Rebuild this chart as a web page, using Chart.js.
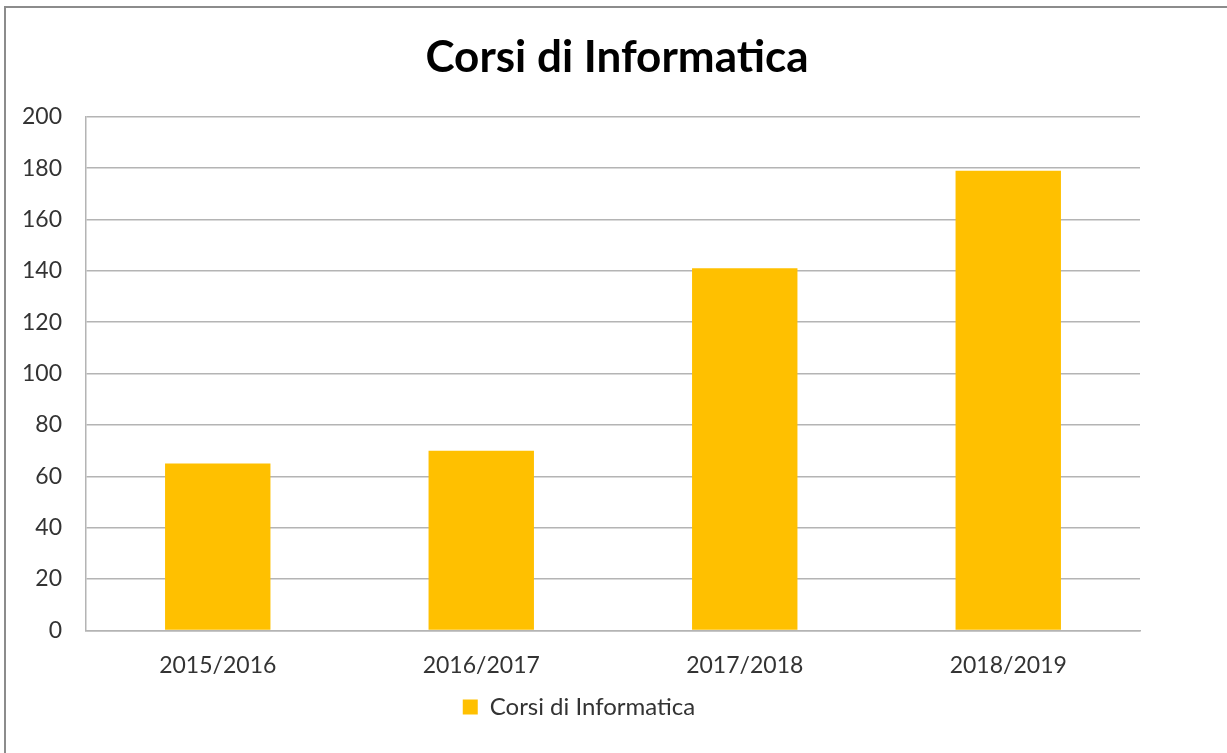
<!DOCTYPE html>
<html>
<head>
    <title>Corsi di Informatica</title>
    <script src="https://cdn.jsdelivr.net/npm/chart.js"></script>
    <style>
        html, body {
            margin: 0;
            padding: 0;
            background: #fff;
        }
        .wrap {
            position: relative;
            width: 1227px;
            height: 753px;
        }
        .frame {
            position: absolute;
            left: 4px;
            top: 6px;
            right: 0;
            bottom: 0;
            border-top: 2px solid #8c8c8c;
            border-left: 2px solid #8c8c8c;
            pointer-events: none;
        }
    </style>
</head>
<body>
    <div class="wrap">
        <canvas id="corsiChart" width="1227" height="753"></canvas>
        <div class="frame"></div>
    </div>

    <script>
        const anni = ['2015/2016', '2016/2017', '2017/2018', '2018/2019'];
        const corsi = [65, 70, 141, 179];
        const serieLabel = 'Corsi di Informatica';

        const FONT = 'Lato, "Open Sans", sans-serif';
        const GRID = '#b4b4b4';

        // Excel centres the title on the whole frame, and the legend a bit left of it
        const nudgeBlocks = {
            id: 'nudgeBlocks',
            afterLayout(chart) {
                const t = chart.titleBlock;
                if (t) { t.left += 94; }
                const lg = chart.legend;
                if (lg) {
                    lg.left += 18;
                    lg.top -= 5;
                    lg.bottom -= 5;
                }
            }
        };

        const ctx = document.getElementById('corsiChart').getContext('2d');
        new Chart(ctx, {
            type: 'bar',
            data: {
                labels: anni,
                datasets: [{
                    label: serieLabel,
                    data: corsi,
                    backgroundColor: '#FFC000',
                    borderWidth: 0,
                    categoryPercentage: 1,
                    barPercentage: 0.4
                }]
            },
            options: {
                responsive: false,
                animation: false,
                layout: {
                    padding: { left: 0, right: 87, top: 0, bottom: 19 }
                },
                scales: {
                    x: {
                        grid: { display: false, drawTicks: false },
                        border: { color: GRID, width: 1.5 },
                        ticks: {
                            padding: 21,
                            color: '#333',
                            font: { family: FONT, size: 23 }
                        }
                    },
                    y: {
                        min: 0,
                        max: 200,
                        afterFit: scale => { scale.width = 86; },
                        grid: { color: GRID, lineWidth: 1.5, drawTicks: false },
                        border: { color: GRID, width: 1.5 },
                        ticks: {
                            stepSize: 20,
                            padding: 24,
                            color: '#333',
                            font: { family: FONT, size: 23 }
                        }
                    }
                },
                plugins: {
                    title: {
                        display: true,
                        text: 'Corsi di Informatica',
                        color: '#000',
                        font: { family: FONT, size: 44, weight: 'bold', lineHeight: 1.2 },
                        padding: { top: 31, bottom: 33 }
                    },
                    legend: {
                        position: 'bottom',
                        labels: {
                            boxWidth: 15,
                            boxHeight: 15,
                            padding: 0,
                            color: '#333',
                            font: { family: FONT, size: 24 }
                        }
                    },
                    tooltip: { enabled: false }
                }
            },
            plugins: [nudgeBlocks]
        });
    </script>
</body>
</html>
